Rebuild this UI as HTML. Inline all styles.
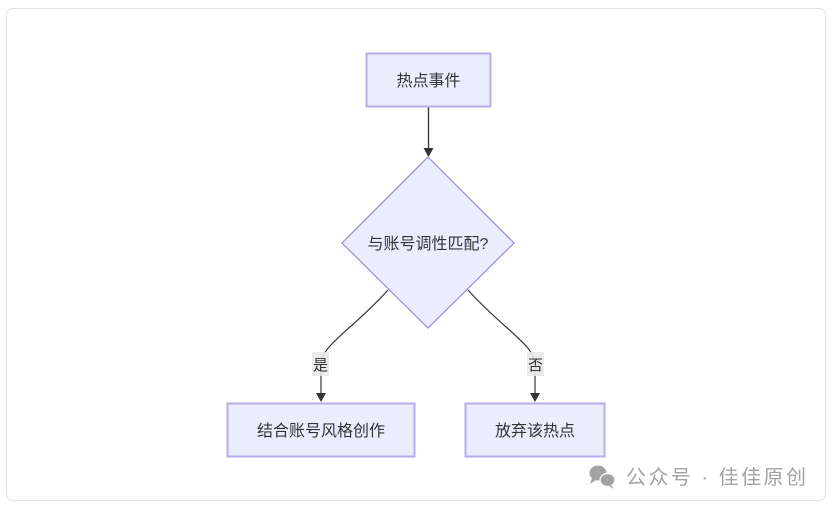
<!DOCTYPE html>
<html><head><meta charset="utf-8"><style>
html,body{margin:0;padding:0;background:#fff;}
body{width:833px;height:508px;overflow:hidden;position:relative;font-family:"Liberation Sans","Noto Sans CJK SC",sans-serif;}
</style></head><body>
<svg width="833" height="508" viewBox="0 0 833 508" xmlns="http://www.w3.org/2000/svg" style="position:absolute;left:0;top:0">
  <rect x="6.5" y="8.5" width="819" height="492" rx="6" ry="6" fill="#fff" stroke="#e2e2e2" stroke-width="1"/>
  <!-- edges -->
  <line x1="428.5" y1="107" x2="428.5" y2="150" stroke="#333" stroke-width="1.3"/>
  <polygon points="423.5,148 433.5,148 428.5,157" fill="#333"/>
  <path d="M388 290 C 352 330, 321 345, 321 365 L 321 395" fill="none" stroke="#333" stroke-width="1.2"/>
  <polygon points="316,393 326,393 321,402" fill="#333"/>
  <path d="M468 290 C 504 330, 535 345, 535 365 L 535 395" fill="none" stroke="#333" stroke-width="1.2"/>
  <polygon points="530,393 540,393 535,402" fill="#333"/>
  <!-- nodes -->
  <rect x="366.5" y="53.5" width="124" height="53" fill="#ECECFF" stroke="#b9acea" stroke-width="2"/>
  <text x="428.5" y="86" font-size="16" text-anchor="middle" fill="#333" font-family="Liberation Sans, Noto Sans CJK SC, sans-serif">热点事件</text>
  <polygon points="428,157 514,243 428,328 342,243" fill="#ECECFF" stroke="#9a88de" stroke-width="1.2"/>
  <text x="428" y="249" font-size="16" text-anchor="middle" fill="#333" font-family="Liberation Sans, Noto Sans CJK SC, sans-serif">与账号调性匹配?</text>
  <rect x="227.5" y="403.5" width="187" height="53" fill="#ECECFF" stroke="#b9acea" stroke-width="2"/>
  <text x="321" y="436" font-size="16" text-anchor="middle" fill="#333" font-family="Liberation Sans, Noto Sans CJK SC, sans-serif">结合账号风格创作</text>
  <rect x="465.5" y="403.5" width="139" height="53" fill="#ECECFF" stroke="#b9acea" stroke-width="2"/>
  <text x="535" y="436" font-size="16" text-anchor="middle" fill="#333" font-family="Liberation Sans, Noto Sans CJK SC, sans-serif">放弃该热点</text>
  <!-- edge labels -->
  <rect x="312" y="352" width="17" height="24" fill="#e8e8e8" opacity="0.9"/>
  <text x="320.5" y="370" font-size="15" text-anchor="middle" fill="#333" font-family="Liberation Sans, Noto Sans CJK SC, sans-serif">是</text>
  <rect x="527" y="352" width="17" height="24" fill="#e8e8e8" opacity="0.9"/>
  <text x="535.5" y="370" font-size="15" text-anchor="middle" fill="#333" font-family="Liberation Sans, Noto Sans CJK SC, sans-serif">否</text>
  <!-- watermark -->
  <ellipse cx="598" cy="473" rx="8.5" ry="7.5" fill="#a3a3a3"/>
  <polygon points="592,478 590,484 596,480" fill="#a3a3a3"/>
  <ellipse cx="607.5" cy="480" rx="7.5" ry="6.5" fill="#a3a3a3" stroke="#fff" stroke-width="1.2"/>
  <polygon points="611,485 614,489 609,486" fill="#a3a3a3"/>
  <text x="626" y="484" font-size="20" fill="#a3a3a3" textLength="180" lengthAdjust="spacing" font-family="Liberation Sans, Noto Sans CJK SC, sans-serif">公众号 · 佳佳原创</text>
</svg>
</body></html>
